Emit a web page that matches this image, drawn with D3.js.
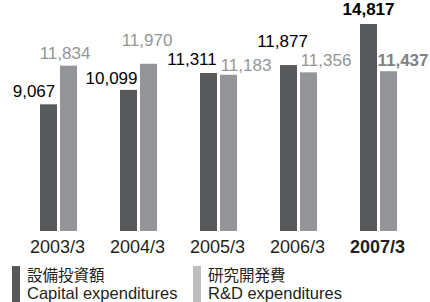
<!DOCTYPE html>
<html>
<head>
<meta charset="utf-8">
<script src="https://cdn.jsdelivr.net/npm/d3@7"></script>
<style>
  html, body { margin: 0; padding: 0; background: #fff; }
  svg { display: block; font-family: "Liberation Sans", Arial, Helvetica, sans-serif; }
  .cjk { font-family: "Noto Sans CJK JP", sans-serif; }
</style>
</head>
<body>
<div id="chart"></div>
<script>
// data
const years = ['2003/3', '2004/3', '2005/3', '2006/3', '2007/3']
const capex = [9067, 10099, 11311, 11877, 14817]
const rnd = [11834, 11970, 11183, 11356, 11437]

// hand placement of the value labels: [dx from bar centre, dy from bar top]
const capexNudge = [[-14.5, -7], [-17, -6], [-16.5, -8], [-6, -18.5], [0, -9]]
const rndNudge = [[-3.5, -6.7], [-1.5, -17.8], [17.5, -3.3], [17.5, -6.4], [14.5, -5.2]]

const colors = { capex: '#58595b', rnd: '#939598', rndKey: '#bcbec0', text: '#231f20' }

const width = 430
const height = 302

const svg = d3.select('#chart')
  .append('svg')
  .attr('width', width)
  .attr('height', height)

// unit line, mostly above the top edge of the picture (as in the source)
svg.append('text')
  .attr('x', 20)
  .attr('y', -3)
  .attr('font-size', 15)
  .attr('fill', '#b0b2b4')
  .text('百万円 (Millions of yen)')

const x = d3.scaleBand()
  .domain(years)
  .range([18.5, 418.5])

const xSub = d3.scaleBand()
  .domain(['capex', 'rnd'])
  .range([21.5, 58.5])
  .paddingInner(0.15)

const y = d3.scaleLinear()
  .domain([0, 15000])
  .range([231, 231 - 207 * 15000 / 14817])

const rows = years.map((yr, i) => ({ yr, i, capex: capex[i], rnd: rnd[i] }))
const last = years.length - 1

const groups = svg.selectAll('g.year')
  .data(rows)
  .enter()
  .append('g')
  .attr('class', 'year')
  .attr('transform', d => 'translate(' + x(d.yr) + ',0)')

groups.append('rect')
  .attr('x', xSub('capex'))
  .attr('width', xSub.bandwidth())
  .attr('y', d => y(d.capex))
  .attr('height', d => y(0) - y(d.capex))
  .attr('fill', colors.capex)

groups.append('rect')
  .attr('x', xSub('rnd'))
  .attr('width', xSub.bandwidth())
  .attr('y', d => y(d.rnd))
  .attr('height', d => y(0) - y(d.rnd))
  .attr('fill', colors.rnd)

const half = xSub.bandwidth() / 2

groups.append('text')
  .attr('text-anchor', 'middle')
  .attr('font-size', 17)
  .attr('font-weight', d => d.i === last ? 'bold' : 'normal')
  .attr('fill', '#000')
  .attr('x', d => xSub('capex') + half + capexNudge[d.i][0])
  .attr('y', d => y(d.capex) + capexNudge[d.i][1])
  .text(d => d3.format(',')(d.capex))

groups.append('text')
  .attr('text-anchor', 'middle')
  .attr('font-size', 17)
  .attr('font-weight', d => d.i === last ? 'bold' : 'normal')
  .attr('fill', d => d.i === last ? '#808285' : colors.rnd)
  .attr('x', d => xSub('rnd') + half + rndNudge[d.i][0])
  .attr('y', d => y(d.rnd) + rndNudge[d.i][1])
  .text(d => d3.format(',')(d.rnd))

// year labels
groups.append('text')
  .attr('text-anchor', 'middle')
  .attr('font-size', 18)
  .attr('font-weight', d => d.i === last ? 'bold' : 'normal')
  .attr('fill', colors.text)
  .attr('x', x.bandwidth() / 2 - 1)
  .attr('y', 253)
  .text(d => d.yr)

// legend
const legend = [
  { x: 12, color: colors.capex, jp: '設備投資額', en: 'Capital expenditures' },
  { x: 193, color: colors.rndKey, jp: '研究開発費', en: 'R&D expenditures' }
]

const key = svg.selectAll('g.key')
  .data(legend)
  .enter()
  .append('g')
  .attr('class', 'key')
  .attr('transform', d => 'translate(' + d.x + ',266)')

key.append('rect')
  .attr('width', 8)
  .attr('height', 40)
  .attr('fill', d => d.color)

key.append('text')
  .attr('class', 'cjk')
  .attr('x', 15)
  .attr('y', 15)
  .attr('font-size', 15.5)
  .attr('fill', colors.text)
  .text(d => d.jp)

key.append('text')
  .attr('x', 15)
  .attr('y', 33)
  .attr('font-size', 16.5)
  .attr('fill', colors.text)
  .text(d => d.en)
</script>
</body>
</html>
